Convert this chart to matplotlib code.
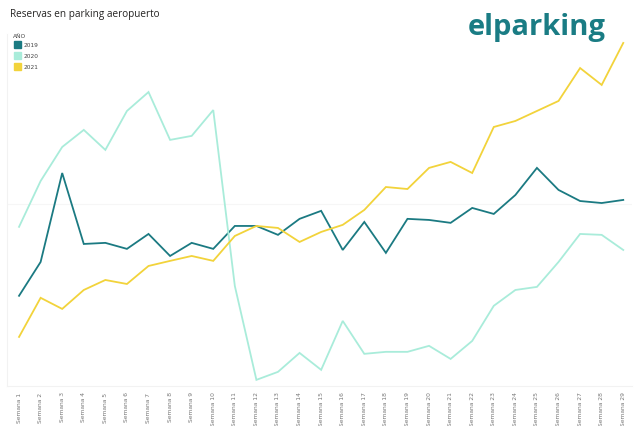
import numpy as np
import matplotlib
matplotlib.use("Agg")
import matplotlib.pyplot as plt
from matplotlib.patches import Rectangle

# weekly bookings (axis is hidden in the source, units are a relative index)
weeks = [f"Semana {i}" for i in range(1, 30)]
res_2019 = [495, 681, 1170, 780, 786, 753, 835, 714, 786, 753, 879, 879, 830, 918,
            962, 747, 901, 731, 918, 912, 896, 978, 945, 1049, 1198, 1077, 1016, 1005, 1022]
res_2020 = [874, 1126, 1313, 1407, 1297, 1511, 1615, 1352, 1374, 1516, 549, 33, 77, 181,
            88, 357, 176, 187, 187, 220, 148, 247, 440, 527, 544, 681, 835, 830, 747]
res_2021 = [269, 484, 423, 527, 582, 560, 659, 687, 714, 687, 824, 879, 868, 791,
            846, 885, 967, 1093, 1082, 1198, 1231, 1170, 1423, 1456, 1511, 1566, 1747, 1654, 1885]
years = ["2019", "2020", "2021"]
colors = ["#1b7a82", "#a9ecda", "#f2d33b"]

fig = plt.figure(figsize=(6.4, 4.27), dpi=100)
ax = fig.add_axes([0.011, 0.094, 0.977, 0.824])

x = np.arange(len(weeks))
for vals, c in zip([res_2019, res_2020, res_2021], colors):
    ax.plot(x, vals, color=c, lw=1.3, solid_joinstyle="miter")

ax.set_xlim(-0.556, 28.42)
ax.set_ylim(0, 1934)
ax.set_yticks([1000])
ax.yaxis.grid(True, color="#f6f6f6", lw=0.8)
ax.tick_params(axis="y", length=0, labelleft=False)
ax.set_xticks(x)
ax.set_xticklabels(weeks, rotation=90, fontsize=4.3, color="#777777",
                   family="DejaVu Sans")
ax.tick_params(axis="x", length=0, pad=4)
for s in ["top", "right"]:
    ax.spines[s].set_visible(False)
for s in ["left", "bottom"]:
    ax.spines[s].set_color("#f2f2f2")
    ax.spines[s].set_linewidth(0.8)

fig.text(0.016, 0.965, "Reservas en parking aeropuerto", fontsize=7.2,
         color="#252423", family="Open Sans", va="center")

# legend
fig.text(0.02, 0.915, "AÑO", fontsize=4.2, color="#444444", va="center")
for i, (yr, c) in enumerate(zip(years, colors)):
    yc = 427 - (45.5 + i * 11)
    fig.patches.append(Rectangle((14 / 640, (yc - 3.5) / 427), 7 / 640, 7 / 427,
                                 transform=fig.transFigure, color=c))
    fig.text(24 / 640, yc / 427, yr, fontsize=4.2, color="#444444", va="center")

# logo
fig.text(0.946, 0.935, "elparking", fontsize=21, fontweight="bold",
         color="#1a7c84", family="Open Sans", ha="right", va="center")

fig.savefig("out.png", dpi=100)
